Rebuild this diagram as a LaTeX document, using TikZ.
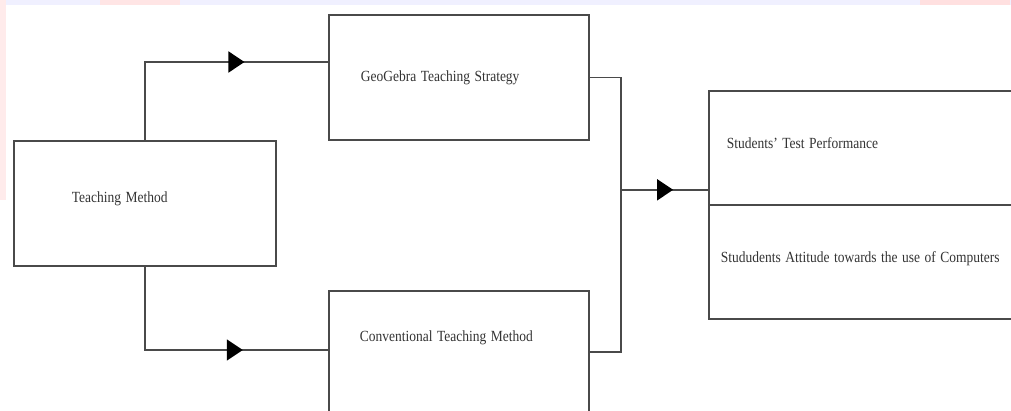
\documentclass[tikz,border=0pt]{standalone}
\usepackage{fontspec}
\setmainfont{Liberation Serif}
\usepackage{graphicx}
\usetikzlibrary{arrows.meta,decorations.markings,calc}
\definecolor{ln}{HTML}{4A4A4A}
\definecolor{tx}{HTML}{333333}
\newcommand{\cond}[1]{\scalebox{0.87}[1]{#1}}
\tikzset{
  boxnode/.style={draw=ln, line width=1.8pt, rectangle, inner ysep=0pt, align=left,
    font=\fontsize{15.5}{17}\selectfont, text=tx},
  conn/.style={draw=ln, line width=1.8pt},
  midarrow/.style={postaction={decorate}, decoration={markings,
    mark=at position #1 with {\arrow{Triangle[width=21pt,length=16pt,color=black]}}}}
}
\begin{document}
\begin{tikzpicture}[x=1pt,y=-1pt]
\useasboundingbox (0,0) rectangle (1011,410);
\clip (0,0) rectangle (1011,410);
% faint watermark traces
\fill[blue!6] (0,0) rectangle (1011,5);
\fill[red!10] (100,0) rectangle (180,5);
\fill[red!12] (920,0) rectangle (1010,5);
\fill[red!8] (0,0) rectangle (6,200);
% boxes
\node[boxnode, anchor=north west, text width=146pt, inner xsep=58pt, text height=62pt, text depth=63pt] (tm) at (13,140) {\cond{Teaching Method}};
\node[boxnode, anchor=north west, text width=196pt, inner xsep=32pt, text height=67pt, text depth=58pt] (geo) at (328,14) {\cond{GeoGebra Teaching Strategy}};
\node[boxnode, anchor=north west, text width=198pt, inner xsep=31pt, text height=51pt, text depth=89pt] (conv) at (328,290) {\cond{Conventional Teaching Method}};
\node[boxnode, anchor=north west, text width=286pt, inner xsep=18pt, text height=58pt, text depth=56pt] (perf) at (708,90) {\cond{Students' Test Performance}};
\node[boxnode, anchor=north west, text width=298pt, inner xsep=12pt, text height=58pt, text depth=56pt] (att) at (708,204) {\cond{Stududents Attitude towards the use of Computers}};
% connectors
\coordinate (geoin) at ($(geo.north west)+(0,48)$);
\coordinate (convin) at ($(conv.north west)+(0,60)$);
\coordinate (convout) at ($(conv.north east)+(0,62)$);
\coordinate (jn) at ($(geo.east)+(31,0)$);
\coordinate (resin) at ($(perf.south west)+(0,-16)$);
\draw[conn, midarrow=0.68] (tm.north) |- (geoin);
\draw[conn, midarrow=0.68] (tm.south) |- (convin);
\draw[conn] (geo.east) -- (jn) -- (jn |- convout) -- (convout);
\draw[conn, midarrow=0.6] (jn |- resin) -- (resin);
\end{tikzpicture}
\end{document}
